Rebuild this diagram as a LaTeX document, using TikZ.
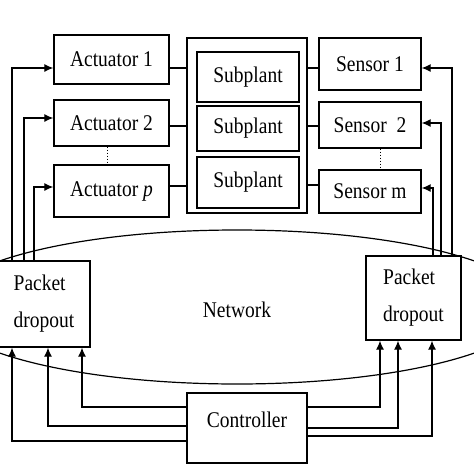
\documentclass[tikz,border=0pt]{standalone}
\usepackage{fontspec}
\usepackage{graphicx}
\setmainfont{Liberation Serif}
\usetikzlibrary{arrows.meta}
\newcommand{\tx}[1]{\scalebox{1}[1.15]{#1}}
\begin{document}
\begin{tikzpicture}[x=1pt,y=-1pt,
  box/.style={draw,line width=1.3pt,fill=white,inner sep=0pt,font=\fontsize{19.5}{22}\selectfont},
  conn/.style={line width=1.2pt},
  arr/.style={conn,-{Latex[length=9pt,width=8pt]}},
  pkt/.style={box,align=left,font=\fontsize{19.5}{37}\selectfont}]
\useasboundingbox[fill=white] (0,0) rectangle (474,474);
% network ellipse
\draw[line width=1.2pt] (237,307) ellipse [x radius=296pt, y radius=77pt];
\node[font=\fontsize{19.5}{22}\selectfont] (net) at (237,310) {\tx{Network}};
% actuators
\node[box,minimum width=115pt,minimum height=49pt] (a1) at (111.5,59.5) {\tx{Actuator 1}};
\node[box,minimum width=115pt,minimum height=46pt] (a2) at (111.5,123) {\tx{Actuator 2}};
\node[box,minimum width=115pt,minimum height=52pt] (ap) at (111.5,191) {\tx{Actuator \textit{p}}};
% plant
\node[box,minimum width=120pt,minimum height=175pt] (plant) at (247,125.5) {};
\node[box,minimum width=102pt,minimum height=50pt] (sp1) at (248,77) {\tx{Subplant}};
\node[box,minimum width=102pt,minimum height=45pt] (sp2) at (248,128.5) {\tx{Subplant}};
\node[box,minimum width=102pt,minimum height=51pt] (sp3) at (248,182.5) {\tx{Subplant}};
% sensors
\node[box,minimum width=102pt,minimum height=52pt] (s1) at (370,64) {\tx{Sensor 1}};
\node[box,minimum width=102pt,minimum height=46pt] (s2) at (370,125) {\tx{Sensor\ \ 2}};
\node[box,minimum width=102pt,minimum height=43pt] (sm) at (370,191.5) {\tx{Sensor m}};
% packet dropout
\node[pkt,minimum width=92pt,minimum height=86pt] (pl) at (44,304) {\tx{Packet}\\\tx{dropout}};
\node[pkt,minimum width=95pt,minimum height=84pt] (pr) at (413.5,298) {\tx{Packet}\\\tx{dropout}};
% controller
\node[box,minimum width=120pt,minimum height=70pt,label={[font=\fontsize{19.5}{22}\selectfont,yshift=8pt]center:\tx{Controller}}] (ctrl) at (247,428) {};
% dotted
\draw[dotted,line width=1pt] (a2.south -| 107,0) -- (ap.north -| 107,0);
\draw[dotted,line width=1pt] (s2.south -| 380,0) -- (sm.north -| 380,0);
% actuator - plant - sensor
\draw[conn] (a1.east |- 0,68) -- (plant.west |- 0,68);
\draw[conn] (a2.east |- 0,126) -- (plant.west |- 0,126);
\draw[conn] (ap.east |- 0,186) -- (plant.west |- 0,186);
\draw[conn] (plant.east |- 0,68) -- (s1.west |- 0,68);
\draw[conn] (plant.east |- 0,126) -- (s2.west |- 0,126);
\draw[conn] (plant.east |- 0,185) -- (sm.west |- 0,185);
% left packet to actuators
\draw[arr] (12,0 |- pl.north) |- (a1.west |- 0,68);
\draw[arr] (24,0 |- pl.north) |- (a2.west |- 0,118);
\draw[arr] (34,0 |- pl.north) |- (ap.west |- 0,187);
% right packet to sensors
\draw[arr] (452,0 |- pr.north) |- (s1.east |- 0,68);
\draw[arr] (441,0 |- pr.north) |- (s2.east |- 0,123);
\draw[arr] (433,0 |- pr.north) |- (sm.east |- 0,188);
% controller to packets
\draw[arr] (ctrl.west |- 0,441) -| (12,0 |- pl.south);
\draw[arr] (ctrl.west |- 0,426) -| (48,0 |- pl.south);
\draw[arr] (ctrl.west |- 0,407) -| (82,0 |- pl.south);
\draw[arr] (ctrl.east |- 0,407) -| (380,0 |- pr.south);
\draw[arr] (ctrl.east |- 0,428) -| (398,0 |- pr.south);
\draw[arr] (ctrl.east |- 0,436) -| (432,0 |- pr.south);
\end{tikzpicture}
\end{document}
